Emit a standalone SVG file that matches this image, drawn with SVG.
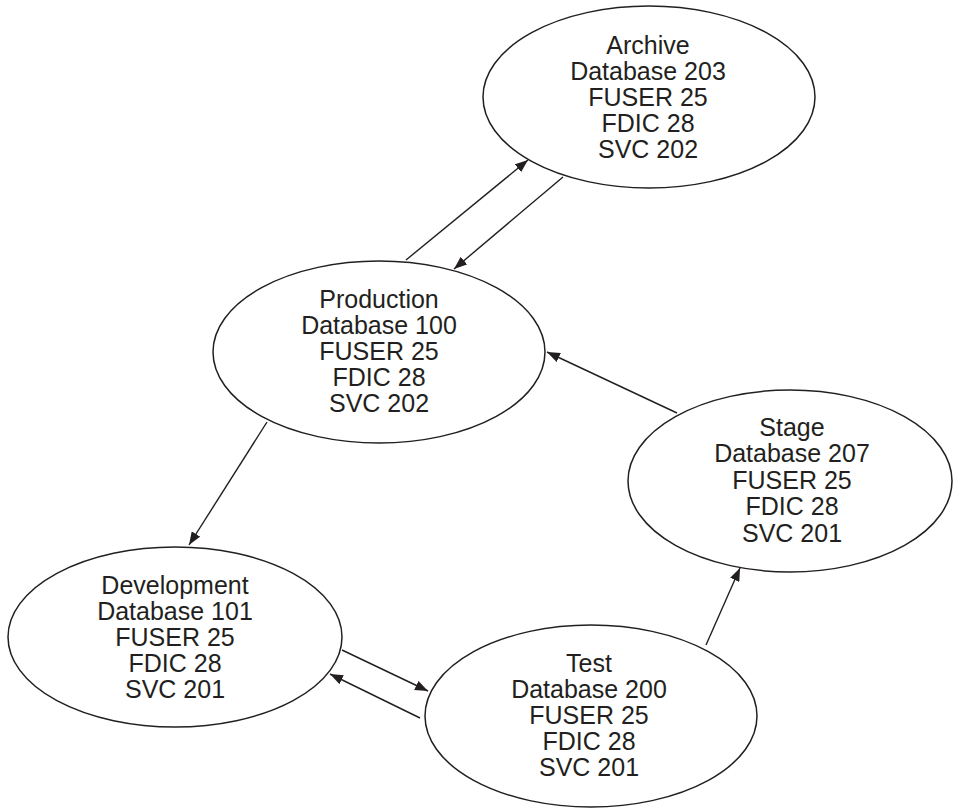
<svg xmlns="http://www.w3.org/2000/svg" width="953" height="808" viewBox="0 0 953 808">
<style>
.n ellipse{fill:#fff;stroke:#231f20;stroke-width:1.5}
.n text{font-family:"Liberation Sans",Arial,sans-serif;font-size:25px;fill:#231f20;text-anchor:middle}
.e line{stroke:#231f20;stroke-width:1.4;marker-end:url(#ah)}
</style>
<defs>
<marker id="ah" markerUnits="userSpaceOnUse" markerWidth="14" markerHeight="10" refX="13" refY="5" orient="auto">
<path d="M0,0 L13,5 L0,10 Z" fill="#231f20"/>
</marker>
</defs>
<rect width="953" height="808" fill="#fff"/>
<g class="e" id="edges">
<line x1="406" y1="260" x2="528" y2="160"/>
<line x1="563" y1="177" x2="454" y2="269"/>
<line x1="677" y1="413" x2="547" y2="352"/>
<line x1="267" y1="422" x2="189" y2="545"/>
<line x1="342" y1="650" x2="428" y2="691"/>
<line x1="420" y1="718" x2="330" y2="674"/>
<line x1="706" y1="645" x2="740" y2="568"/>
</g>
<g class="n" id="archive">
<ellipse cx="649" cy="97" rx="166" ry="91"/>
<text x="648" y="54">Archive</text>
<text x="648" y="80">Database 203</text>
<text x="648" y="106">FUSER 25</text>
<text x="648" y="132">FDIC 28</text>
<text x="648" y="158">SVC 202</text>
</g>
<g class="n" id="production">
<ellipse cx="379" cy="352" rx="166" ry="91"/>
<text x="379" y="308">Production</text>
<text x="379" y="334">Database 100</text>
<text x="379" y="360">FUSER 25</text>
<text x="379" y="386">FDIC 28</text>
<text x="379" y="412">SVC 202</text>
</g>
<g class="n" id="stage">
<ellipse cx="790" cy="481" rx="162" ry="91"/>
<text x="792" y="436">Stage</text>
<text x="792" y="462">Database 207</text>
<text x="792" y="489">FUSER 25</text>
<text x="792" y="515">FDIC 28</text>
<text x="792" y="542">SVC 201</text>
</g>
<g class="n" id="development">
<ellipse cx="175" cy="637" rx="167" ry="90"/>
<text x="175" y="594">Development</text>
<text x="175" y="620">Database 101</text>
<text x="175" y="646">FUSER 25</text>
<text x="175" y="672">FDIC 28</text>
<text x="175" y="698">SVC 201</text>
</g>
<g class="n" id="test">
<ellipse cx="591" cy="716" rx="166" ry="91"/>
<text x="589" y="672">Test</text>
<text x="589" y="698">Database 200</text>
<text x="589" y="724">FUSER 25</text>
<text x="589" y="750">FDIC 28</text>
<text x="589" y="776">SVC 201</text>
</g>
</svg>
